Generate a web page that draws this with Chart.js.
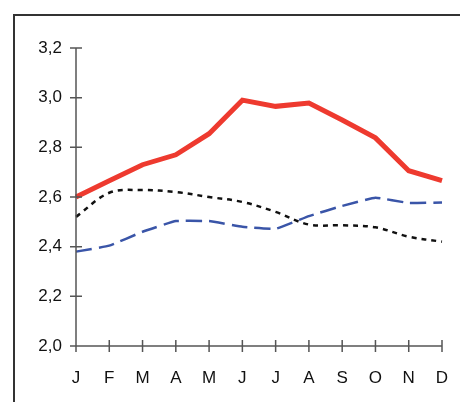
<!DOCTYPE html>
<html>
<head>
<meta charset="utf-8">
<script src="https://cdn.jsdelivr.net/npm/chart.js@4"></script>
<style>
  html, body { margin: 0; padding: 0; background: #fff; overflow: hidden; }
  #wrap { width: 460px; height: 402px; }
  canvas { display: block; }
</style>
</head>
<body>
<div id="wrap"><canvas id="chart"></canvas></div>
<script>
const months = ["J", "F", "M", "A", "M", "J", "J", "A", "S", "O", "N", "D"];
const redSeries = [2.60, 2.665, 2.73, 2.77, 2.855, 2.99, 2.965, 2.978, 2.91, 2.838, 2.706, 2.666];
const blueSeries = [2.38, 2.404, 2.46, 2.503, 2.503, 2.48, 2.472, 2.523, 2.564, 2.597, 2.576, 2.578];
const blackSeries = [2.52, 2.617, 2.628, 2.62, 2.60, 2.58, 2.54, 2.489, 2.486, 2.478, 2.44, 2.42];
const yTicks = { min: 2.0, max: 3.2, step: 0.2 };

const axisColor = "#555";

// frame on the left and top, plus ticks that cross the axes
const framePlugin = {
  id: "frame",
  beforeDraw(chart) {
    const ctx = chart.ctx;
    ctx.save();
    ctx.strokeStyle = "#333";
    ctx.lineWidth = 2;
    ctx.beginPath();
    ctx.moveTo(14, 402);
    ctx.lineTo(14, 15);
    ctx.lineTo(460, 15);
    ctx.stroke();
    ctx.restore();
  },
  afterDraw(chart) {
    const { ctx, scales: { x, y } } = chart;
    ctx.save();
    ctx.strokeStyle = axisColor;
    ctx.lineWidth = 1.5;
    ctx.beginPath();
    y.ticks.forEach((t, i) => {
      const py = y.getPixelForTick(i);
      ctx.moveTo(x.left - 6, py);
      ctx.lineTo(x.left + 6, py);
    });
    x.ticks.forEach((t, i) => {
      const px = x.getPixelForTick(i);
      ctx.moveTo(px, y.bottom - 6);
      ctx.lineTo(px, y.bottom + 6);
    });
    ctx.moveTo(x.left, y.top);
    ctx.lineTo(x.left, y.bottom);
    ctx.moveTo(x.left, y.bottom);
    ctx.lineTo(x.right, y.bottom);
    ctx.stroke();
    ctx.restore();
  }
};

const ctx = document.getElementById("chart").getContext("2d");
new Chart(ctx, {
  type: "line",
  data: {
    labels: months,
    datasets: [
      {
        label: "black",
        data: blackSeries,
        borderColor: "#111",
        borderWidth: 2.5,
        borderDash: [5, 5],
        tension: 0.35,
        pointRadius: 0,
        fill: false,
      },
      {
        label: "blue",
        data: blueSeries,
        borderColor: "#3a55a8",
        borderWidth: 2.5,
        borderDash: [16, 7],
        tension: 0.1,
        pointRadius: 0,
        fill: false,
      },
      {
        label: "red",
        data: redSeries,
        borderColor: "#ee3a2f",
        borderWidth: 5,
        tension: 0,
        pointRadius: 0,
        fill: false,
      },
    ],
  },
  options: {
    responsive: true,
    maintainAspectRatio: false,
    animation: false,
    layout: { padding: { top: 48, right: 18, bottom: 0, left: 0 } },
    plugins: {
      legend: { display: false },
      tooltip: { enabled: false },
    },
    scales: {
      x: {
        offset: false,
        grid: { display: false, drawTicks: false },
        border: { display: false },
        ticks: {
          color: "#111",
          font: { family: "Liberation Sans, Arial", size: 17 },
          padding: 22,
          maxRotation: 0,
          autoSkip: false,
        },
        afterFit(scale) {
          scale.height = 56;
          scale.paddingLeft = 0;
          scale.paddingRight = 0;
        },
      },
      y: {
        min: yTicks.min,
        max: yTicks.max,
        grid: { display: false, drawTicks: false },
        border: { display: false },
        ticks: {
          stepSize: yTicks.step,
          color: "#111",
          font: { family: "Liberation Sans, Arial", size: 17 },
          padding: 14,
          callback: (v) => v.toFixed(1).replace(".", ","),
        },
        afterFit(scale) { scale.width = 76; },
      },
    },
  },
  plugins: [framePlugin],
});
</script>
</body>
</html>
